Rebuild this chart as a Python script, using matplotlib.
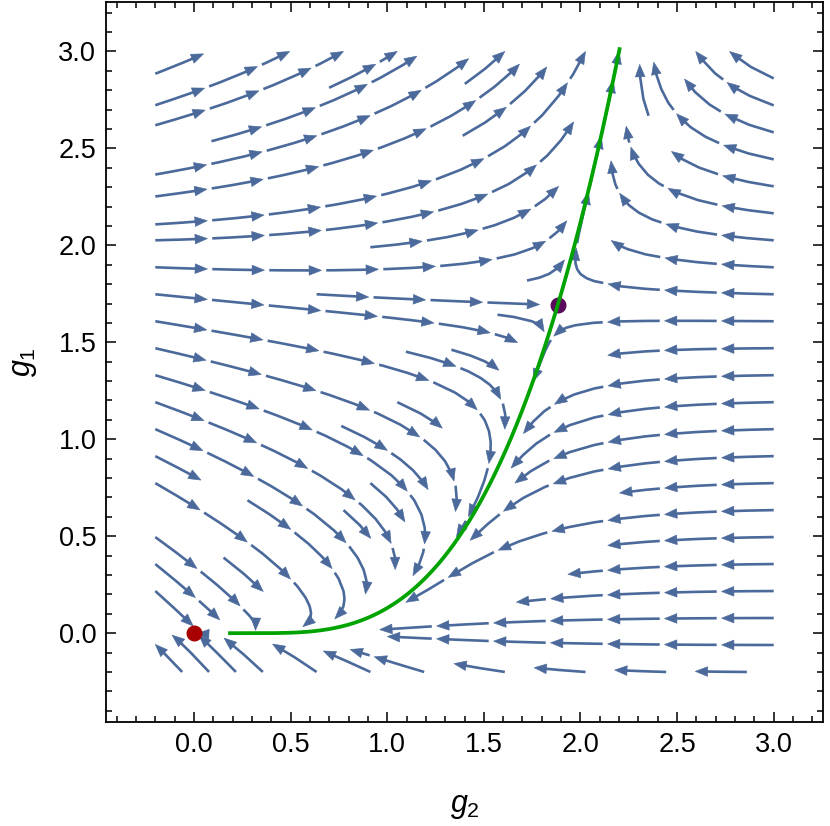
import numpy as np
import matplotlib
matplotlib.use("Agg")
import matplotlib.pyplot as plt
from matplotlib.collections import LineCollection, PolyCollection
from matplotlib.ticker import MultipleLocator, FormatStrFormatter

# flow coefficients estimated from the arrow directions in the picture
# dg2 = -g2^2 + (a0 + a1*g2)*g1 + a2*g1^2
beta2_coef = [4.735, -1.673, 0.30]
# dg1 = (k0 + k1*g2 + k2*g2*g1) * g1 * (g1 - e0 + e1*g2)
beta1_scale = [2.36, -0.76, 0.086]
beta1_null = [1.948, 0.135]

gaussian_fp = (0.0, 0.0)
nontrivial_fp = (1.883, 1.694)
plot_range = (-0.2, 3.0)
green_stop = (0.18, 3.02)


def flow(g2, g1):
    g2 = np.asarray(g2, float)
    g1 = np.asarray(g1, float)
    a0, a1, a2 = beta2_coef
    k0, k1, k2 = beta1_scale
    e0, e1 = beta1_null
    d2 = -g2**2 + (a0 + a1 * g2) * g1 + a2 * g1**2
    d1 = (k0 + k1 * g2 + k2 * g2 * g1) * g1 * (g1 - e0 + e1 * g2)
    return d2, d1


gx = np.linspace(plot_range[0], plot_range[1], 201)
gy = np.linspace(plot_range[0], plot_range[1], 201)
X, Y = np.meshgrid(gx, gy)
U, V = flow(X, Y)

# let matplotlib pick the streamlines, then redraw them as dashes with heads
tf, ta = plt.subplots()
sp = ta.streamplot(gx, gy, U, V, density=0.8, broken_streamlines=True, minlength=0.06)
segs = sp.lines.get_segments()
plt.close(tf)

if all(len(s) == 2 for s in segs):
    lines = []
    cur = [segs[0][0], segs[0][1]]
    for s in segs[1:]:
        if np.allclose(s[0], cur[-1]):
            cur.append(s[1])
        else:
            lines.append(np.array(cur))
            cur = [s[0], s[1]]
    lines.append(np.array(cur))
else:
    lines = [np.asarray(s) for s in segs]

seg_len, gap, hl, hw = 0.27, 0.025, 0.064, 0.025
dash_lines, heads = [], []
for P in lines:
    d = np.hypot(*np.diff(P, axis=0).T)
    P = P[np.concatenate([[True], d > 1e-9])]
    s = np.concatenate([[0], np.cumsum(np.hypot(*np.diff(P, axis=0).T))])
    L = s[-1]
    start = 0.0
    while start < L - 0.08:
        end = min(start + seg_len, L)
        ts = np.linspace(start, end - hl * 0.8, 25)
        dash_lines.append(np.column_stack([np.interp(ts, s, P[:, 0]), np.interp(ts, s, P[:, 1])]))
        tip = np.array([np.interp(end, s, P[:, 0]), np.interp(end, s, P[:, 1])])
        back = np.array([np.interp(end - 0.03, s, P[:, 0]), np.interp(end - 0.03, s, P[:, 1])])
        t = (tip - back) / np.hypot(*(tip - back))
        nn = np.array([-t[1], t[0]])
        base = tip - t * hl
        heads.append([tip, base + nn * hw, base - nn * hw])
        start = end + gap


def unit(p):
    a, b = flow(p[0], p[1])
    return np.array([a, b]) / np.hypot(a, b)


# unstable direction of the nontrivial fixed point
fp = np.array(nontrivial_fp)
J = np.zeros((2, 2))
for k in range(2):
    dp = np.zeros(2)
    dp[k] = 1e-5
    J[:, k] = (np.array(flow(*(fp + dp))) - np.array(flow(*(fp - dp)))) / 2e-5
ev, evec = np.linalg.eig(J)
vec = np.real(evec[:, np.argmax(np.real(ev))])
vec = vec * np.sign(vec[1])


def trace(p, h=0.004):
    pts = [p.copy()]
    for _ in range(3000):
        k1 = unit(p)
        k2 = unit(p + 0.5 * h * k1)
        k3 = unit(p + 0.5 * h * k2)
        k4 = unit(p + h * k3)
        p = p + h * (k1 + 2 * k2 + 2 * k3 + k4) / 6
        pts.append(p.copy())
        if p[0] < green_stop[0] or p[1] > green_stop[1]:
            break
    return np.array(pts)


green = np.vstack([trace(fp - 0.01 * vec)[::-1], trace(fp + 0.01 * vec)])

plt.rcParams["font.family"] = ["Liberation Sans", "DejaVu Sans"]
plt.rcParams["mathtext.fontset"] = "custom"
plt.rcParams["mathtext.it"] = "Liberation Sans:italic"
plt.rcParams["mathtext.rm"] = "Liberation Sans"

fig = plt.figure(figsize=(8.3, 8.26), dpi=100)
ax = fig.add_axes([106 / 830, 1 - 722 / 826, 717 / 830, 720 / 826])
stream_col = "#4b6a9b"
ax.add_collection(LineCollection(dash_lines, colors=stream_col, linewidths=1.9, capstyle="butt"))
ax.add_collection(PolyCollection(heads, facecolors=stream_col, edgecolors=stream_col, linewidths=0.4))
ax.plot(green[:, 0], green[:, 1], color="#00a300", lw=2.7, zorder=4, solid_capstyle="butt")
ax.plot([gaussian_fp[0]], [gaussian_fp[1]], "o", color="#a80000", ms=10.5, zorder=5)
ax.plot([fp[0]], [fp[1]], "o", color="#5a0a5a", ms=10.5, zorder=3)

ax.set_xlim(-0.455, 3.255)
ax.set_ylim(-0.458, 3.255)
for axis in (ax.xaxis, ax.yaxis):
    axis.set_major_locator(MultipleLocator(0.5))
    axis.set_minor_locator(MultipleLocator(0.1))
    axis.set_major_formatter(FormatStrFormatter("%.1f"))
ax.tick_params(which="both", direction="in", top=True, right=True, width=1.1, labelsize=19.5)
ax.tick_params(which="major", length=7.5, pad=7)
ax.tick_params(which="minor", length=4)
for sp_ in ax.spines.values():
    sp_.set_linewidth(1.3)
ax.set_xlabel("$g_2$", fontsize=22, labelpad=24)
ax.set_ylabel("$g_1$", fontsize=22, labelpad=14)
fig.savefig("out.png", dpi=100)
